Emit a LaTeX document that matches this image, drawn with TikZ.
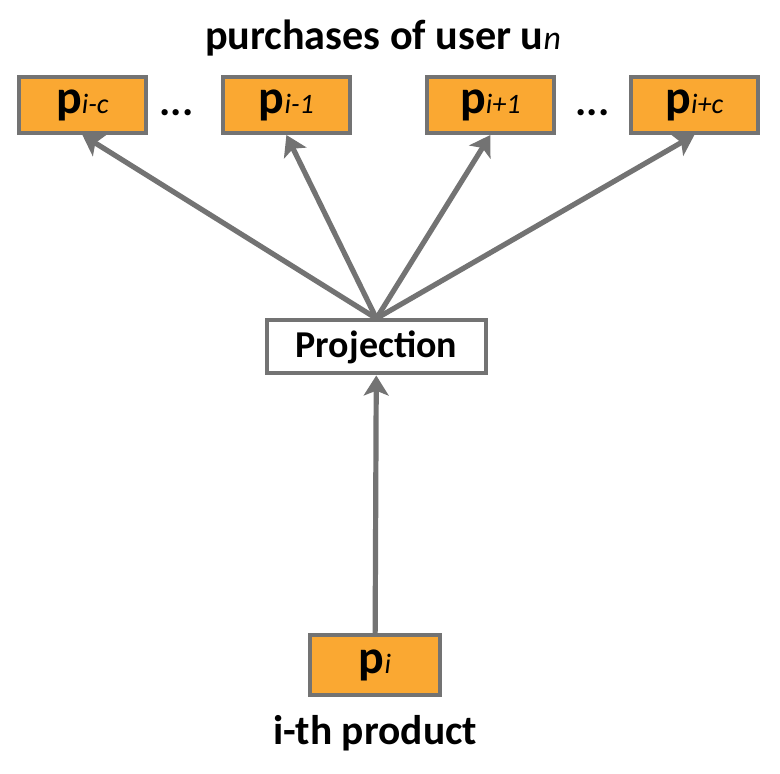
\documentclass[tikz,border=0pt]{standalone}
\usepackage{fontspec}
\setmainfont{Carlito}
\usetikzlibrary{arrows.meta,positioning}
\definecolor{boxorange}{RGB}{250,168,50}
\definecolor{boxgray}{RGB}{115,115,115}
\newcommand{\pvec}[1]{{\bfseries\fontsize{34}{34}\selectfont p}{\fontsize{20}{20}\selectfont\itshape #1}}

\begin{document}
\begin{tikzpicture}
    \tikzset{item/.style= {draw=boxgray, fill=boxorange, rectangle
    , line width=0.1cm
    , minimum width=3.175cm
    , minimum height=1.4cm
    , node distance=5.1cm
    , font=\fontsize{28}{30}\selectfont
      }
    , caption/.style={font=\fontsize{30}{32}\selectfont\bfseries}
    , link/.style={draw=boxgray, line width=0.13cm
    , -{Stealth[length=0.5cm, width=0.62cm, inset=0.12cm]}
      }
    }

\useasboundingbox (0,0) rectangle (19.5,19.35);

\node [caption] (title) at (9.575,18.4) {purchases of user u{\mdseries\itshape\fontsize{24}{24}\selectfont n}};

\node [item] (b1) at (2.06,16.725) {\pvec{i-c}};
\node [item, right of=b1] (b2) {\pvec{i-1}};
\node [item, right of=b2] (b3) {\pvec{i+1}};
\node [item, right of=b3] (b4) {\pvec{i+c}};
\node [caption, right of=b1, node distance=2.35cm, yshift=-0.2cm] (d1) {...};
\node [caption, right of=b3, node distance=2.55cm, yshift=-0.2cm] (d2) {...};

\node [item, fill=white, minimum width=5.475cm, minimum height=1.325cm
  , font=\fontsize{27}{29}\selectfont\bfseries] (proj) at (9.41,10.675) {Projection};

\node [item, minimum width=3.25cm, minimum height=1.5cm] (pi) at (9.375,2.725) {\pvec{i}};
\node [caption, font=\fontsize{29.5}{31}\selectfont\bfseries] (name) at (9.375,1.025) {i-th product};

\foreach \n in {b1,b2,b3,b4}
  \path[link] (proj.north) -- (\n.south);
\path[link] (pi) -- (proj);
\end{tikzpicture}
\end{document}
